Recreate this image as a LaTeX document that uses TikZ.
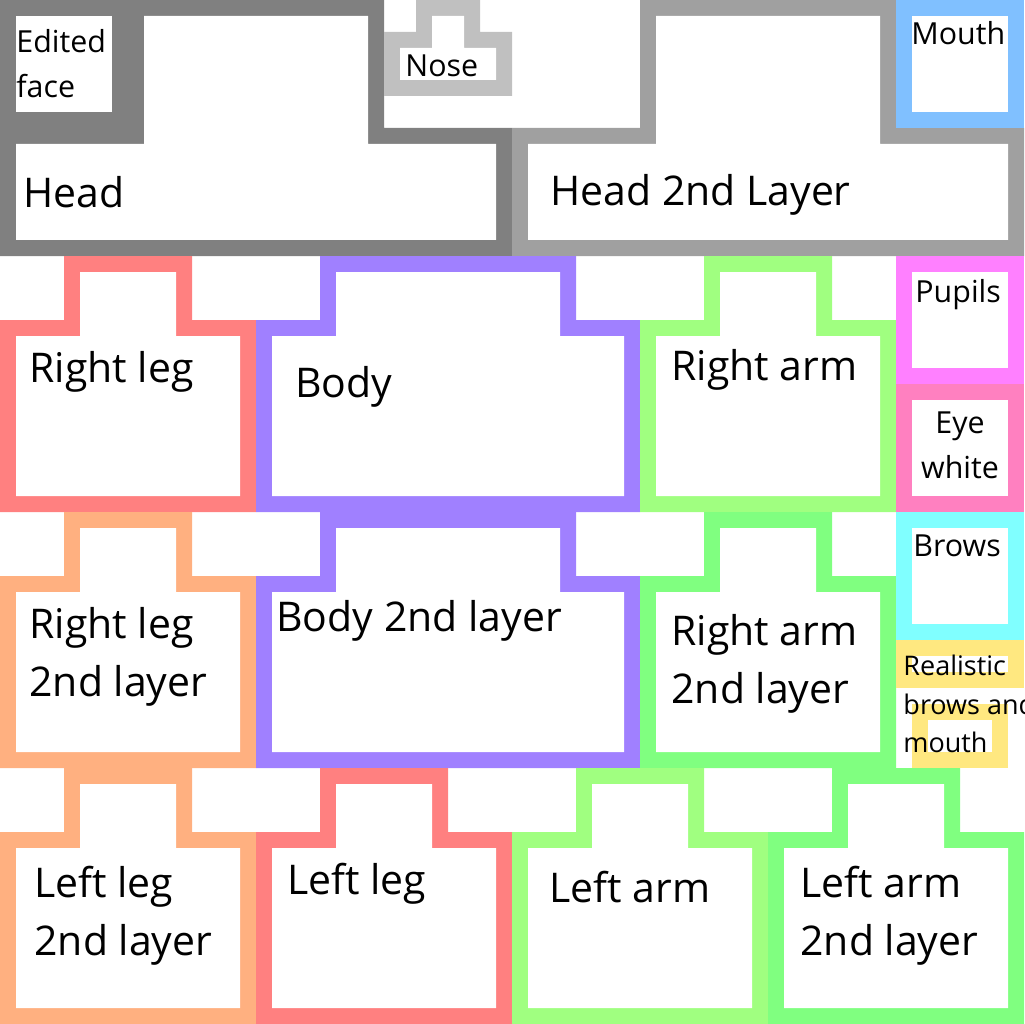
\documentclass[tikz,border=0pt]{standalone}
\usepackage{fontspec}
\setmainfont{Open Sans}
\definecolor{cdgray}{HTML}{808080}
\definecolor{chgray}{HTML}{A0A0A0}
\definecolor{cnose}{HTML}{C0C0C0}
\definecolor{cmouth}{HTML}{80C0FF}
\definecolor{cred}{HTML}{FF8080}
\definecolor{cpurple}{HTML}{A080FF}
\definecolor{clgreen}{HTML}{A0FF80}
\definecolor{cgreen}{HTML}{80FF80}
\definecolor{corange}{HTML}{FFB080}
\definecolor{cpupil}{HTML}{FF80FF}
\definecolor{ceye}{HTML}{FF80C0}
\definecolor{cbrow}{HTML}{80FFFF}
\definecolor{cyellow}{HTML}{FFE880}
\newcommand\limbshape[3]{%
  \begin{scope}[shift={(#1,#2)}]
    \fill[#3] (4,0)--(12,0)--(12,4)--(16,4)--(16,16)--(0,16)--(0,4)--(4,4)--cycle;
    \fill[white] (5,1)--(11,1)--(11,5)--(15,5)--(15,15)--(1,15)--(1,5)--(5,5)--cycle;
  \end{scope}}
\newcommand\bodyshape[3]{%
  \begin{scope}[shift={(#1,#2)}]
    \fill[#3] (4,0)--(20,0)--(20,4)--(24,4)--(24,16)--(0,16)--(0,4)--(4,4)--cycle;
    \fill[white] (5,1)--(19,1)--(19,5)--(23,5)--(23,15)--(1,15)--(1,5)--(5,5)--cycle;
  \end{scope}}
\newcommand\boxshape[5]{%
  \fill[#5] (#1,#2) rectangle (#3,#4);
  \fill[white] (#1+1,#2+1) rectangle (#3-1,#4-1);}
\begin{document}
\begin{tikzpicture}[x=0.25cm,y=-0.25cm,
  big/.style={font=\fontsize{18.2}{25.7}\selectfont,inner sep=0,anchor=west,align=left},
  mid/.style={font=\fontsize{13.5}{20}\selectfont,inner sep=0,anchor=west,align=left},
  sml/.style={font=\fontsize{12}{17}\selectfont,inner sep=0,anchor=west,align=left}]
\useasboundingbox (0,0) rectangle (64,64);
\clip (0,0) rectangle (64,64);
% head
\fill[cdgray] (0,0)--(24,0)--(24,8)--(32,8)--(32,16)--(0,16)--cycle;
\fill[white] (9,1)--(23,1)--(23,9)--(31,9)--(31,15)--(1,15)--(1,9)--(9,9)--cycle;
\fill[white] (1,1) rectangle (7,7);
% nose
\fill[cnose] (26,0)--(30,0)--(30,2)--(32,2)--(32,6)--(24,6)--(24,2)--(26,2)--cycle;
\fill[white] (27,1)--(29,1)--(29,3)--(31,3)--(31,5)--(25,5)--(25,3)--(27,3)--cycle;
% head 2nd
\fill[chgray] (40,0)--(56,0)--(56,8)--(64,8)--(64,16)--(32,16)--(32,8)--(40,8)--cycle;
\fill[white] (41,1)--(55,1)--(55,9)--(63,9)--(63,15)--(33,15)--(33,9)--(41,9)--cycle;
\boxshape{56}{0}{64}{8}{cmouth}
% row 2
\limbshape{0}{16}{cred}
\bodyshape{16}{16}{cpurple}
\limbshape{40}{16}{clgreen}
\boxshape{56}{16}{64}{24}{cpupil}
\boxshape{56}{24}{64}{32}{ceye}
% row 3
\limbshape{0}{32}{corange}
\bodyshape{16}{32}{cpurple}
\limbshape{40}{32}{cgreen}
\boxshape{56}{32}{64}{40}{cbrow}
\boxshape{56}{40}{64}{43}{cyellow}
\boxshape{57}{44}{63}{48}{cyellow}
% row 4
\limbshape{0}{48}{corange}
\limbshape{16}{48}{cred}
\limbshape{32}{48}{clgreen}
\limbshape{48}{48}{cgreen}
% labels
\node[mid] (tface) at (16/16,64/16) {Edited\\face};
\node[mid] (tnose) at (405/16,66/16) {Nose};
\node[mid] (tmouth) at (911/16,33/16) {Mouth};
\node[big] (thead) at (23/16,192/16) {Head};
\node[big] (thead2) at (550/16,195/16) {Head 2nd Layer};
\node[big] (trleg) at (29/16,372/16) {Right leg};
\node[big] (tbody) at (295/16,387/16) {Body};
\node[big] (trarm) at (671/16,370/16) {Right arm};
\node[mid] (tpupil) at (915/16,295/16) {Pupils};
\node[mid,anchor=center,align=center] (teye) at (960/16,445/16) {Eye\\white};
\node[mid] (tbrow) at (913/16,546/16) {Brows};
\node[big] (trleg2) at (29/16,657/16) {Right leg\\2nd layer};
\node[big] (tbody2) at (276/16,621/16) {Body 2nd layer};
\node[big] (trarm2) at (671/16,664/16) {Right arm\\2nd layer};
\node[sml] (treal) at (903/16,704/16) {Realistic\\brows and\\mouth};
\node[big] (tlleg2) at (34/16,916/16) {Left leg\\2nd layer};
\node[big] (tlleg) at (287/16,884/16) {Left leg};
\node[big] (tlarm) at (549/16,887/16) {Left arm};
\node[big] (tlarm2) at (800/16,916/16) {Left arm\\2nd layer};
\end{tikzpicture}
\end{document}
